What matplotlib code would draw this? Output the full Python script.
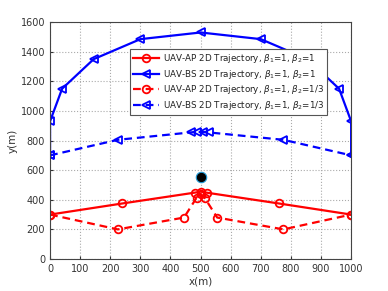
import matplotlib
matplotlib.use("Agg")
import matplotlib.pyplot as plt

# UAV-BS, beta2 = 1
bs1_x = [0, 0, 40, 145, 300, 500, 700, 855, 960, 1000, 1000]
bs1_y = [700, 930, 1150, 1350, 1485, 1530, 1485, 1350, 1150, 930, 700]
# UAV-BS, beta2 = 1/3
bs3_x = [0, 225, 467, 487, 507, 527, 775, 1000]
bs3_y = [700, 805, 855, 858, 858, 855, 805, 700]
# UAV-AP, beta2 = 1
ap1_x = [0, 240, 480, 500, 520, 760, 1000]
ap1_y = [300, 375, 448, 455, 448, 375, 300]
# UAV-AP, beta2 = 1/3
ap3_x = [0, 225, 445, 487, 500, 513, 555, 775, 1000]
ap3_y = [300, 200, 280, 415, 440, 415, 280, 200, 300]
# user / ground node
node_x, node_y = 500, 555

plt.rcParams['font.family'] = ['DejaVu Sans']
plt.rcParams['mathtext.fontset'] = 'dejavusans'

fig = plt.figure(figsize=(3.88, 2.91), dpi=100)
ax = fig.add_axes([0.129, 0.110, 0.776, 0.814])

ax.plot(ap1_x, ap1_y, color='red', lw=1.6, marker='o', ms=5.5, mfc='none', mew=1.3,
        label=r'UAV-AP 2D Trajectory, $\beta_1$=1, $\beta_2$=1')
ax.plot(bs1_x, bs1_y, color='blue', lw=1.6, marker='<', ms=6, mfc='none', mew=1.3,
        label=r'UAV-BS 2D Trajectory, $\beta_1$=1, $\beta_2$=1')
ax.plot(ap3_x, ap3_y, color='red', lw=1.6, ls=(0, (3.5, 2.2)), marker='o', ms=5.5, mfc='none', mew=1.3,
        label=r'UAV-AP 2D Trajectory, $\beta_1$=1, $\beta_2$=1/3')
ax.plot(bs3_x, bs3_y, color='blue', lw=1.6, ls=(0, (3.5, 2.2)), marker='<', ms=6, mfc='none', mew=1.3,
        label=r'UAV-BS 2D Trajectory, $\beta_1$=1, $\beta_2$=1/3')
ax.plot([node_x], [node_y], marker='o', ms=7.5, color='black', mec='#1f9ad6', mew=0.8, ls='none')

ax.set_xlim(0, 1000)
ax.set_ylim(0, 1600)
ax.set_xticks(range(0, 1001, 100))
ax.set_yticks(range(0, 1601, 200))
ax.grid(True, ls=':', color='#aaaaaa', lw=0.8)
ax.tick_params(labelsize=7, colors='#333333', direction='in', length=2)
for s in ax.spines.values():
    s.set_color('#444444')
    s.set_linewidth(0.8)
ax.set_xlabel('x(m)', fontsize=7.5, color='#333333', labelpad=2)
ax.set_ylabel('y(m)', fontsize=7.5, color='#333333', labelpad=2)

leg = ax.legend(loc='upper left', bbox_to_anchor=(0.25, 0.905), fontsize=6.3,
                fancybox=False, edgecolor='#555555', framealpha=1, handlelength=3,
                borderpad=0.35, labelspacing=0.3, handletextpad=0.4)
leg.get_frame().set_linewidth(0.8)
for t in leg.get_texts():
    t.set_color('#222222')

fig.savefig('out.png', dpi=100)
